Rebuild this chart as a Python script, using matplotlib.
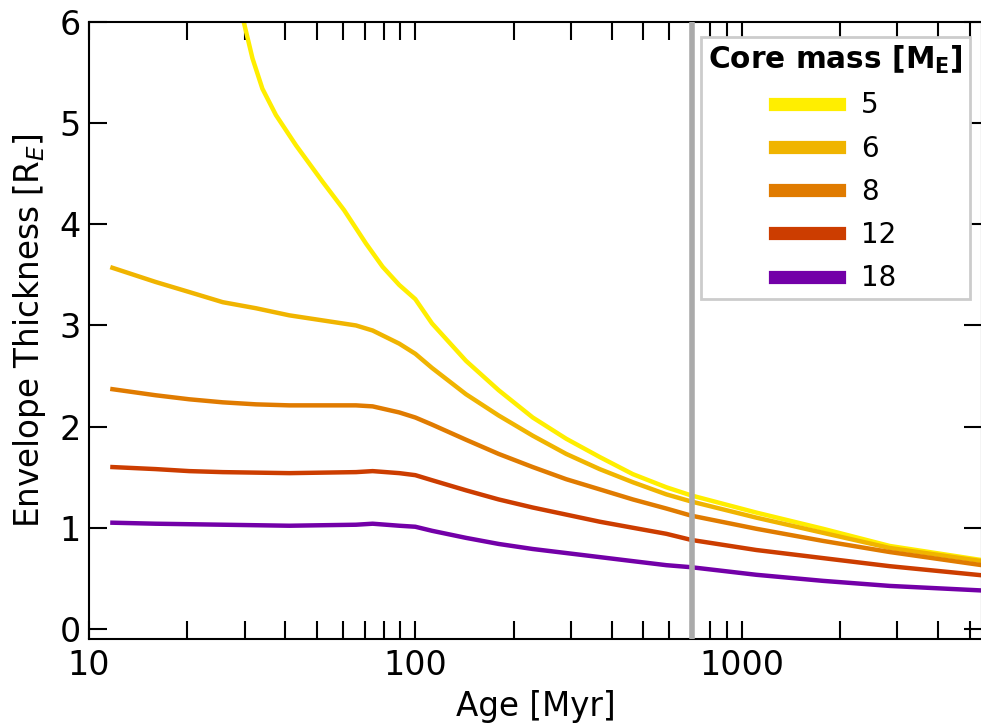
import numpy as np
import matplotlib
matplotlib.use("Agg")
import matplotlib.pyplot as plt

# ages in Myr and envelope thickness in Earth radii
age_5 = [29.6, 31.7, 34.0, 37.4, 43.1, 52.0, 60.5, 70.6, 79.4, 89.3, 100, 112.5, 143, 180, 229,
         290, 367, 464, 588, 700, 1109, 1775, 2843, 5450]
thk_5 = [6.04, 5.64, 5.34, 5.08, 4.78, 4.42, 4.14, 3.81, 3.58, 3.40, 3.26, 3.02, 2.65, 2.36, 2.09,
         1.88, 1.70, 1.53, 1.40, 1.32, 1.15, 0.99, 0.82, 0.68]

age_grid = [11.8, 16.0, 20.3, 25.7, 32.5, 41.1, 52, 65.8, 74, 89.3, 100, 112.5, 143, 180, 229,
            290, 367, 464, 588, 700, 1109, 1775, 2843, 5450]
thk_6 = [3.57, 3.43, 3.33, 3.23, 3.17, 3.10, 3.05, 3.00, 2.95, 2.82, 2.72, 2.58, 2.32, 2.11, 1.91,
         1.73, 1.58, 1.45, 1.33, 1.26, 1.10, 0.95, 0.80, 0.67]
thk_8 = [2.37, 2.31, 2.27, 2.24, 2.22, 2.21, 2.21, 2.21, 2.20, 2.14, 2.09, 2.02, 1.87, 1.73, 1.60,
         1.48, 1.38, 1.28, 1.19, 1.12, 0.99, 0.87, 0.76, 0.63]
thk_12 = [1.60, 1.58, 1.56, 1.55, 1.545, 1.54, 1.545, 1.55, 1.56, 1.54, 1.52, 1.47, 1.37, 1.28, 1.20,
          1.13, 1.06, 1.00, 0.94, 0.88, 0.78, 0.70, 0.62, 0.53]
thk_18 = [1.05, 1.04, 1.035, 1.03, 1.025, 1.02, 1.025, 1.03, 1.04, 1.02, 1.01, 0.97, 0.90, 0.84, 0.79,
          0.75, 0.71, 0.67, 0.63, 0.61, 0.535, 0.475, 0.425, 0.38]

core_masses = ['5', '6', '8', '12', '18']
colors = ['#ffee00', '#f0b400', '#e07b00', '#cc3d00', '#7300a8']
age_marker = 705

fig = plt.figure(figsize=(9.81, 7.26), dpi=100)
ax = fig.add_axes([0.0907, 0.1198, 0.9103, 0.8499])

series = [(age_5, thk_5), (age_grid, thk_6), (age_grid, thk_8), (age_grid, thk_12), (age_grid, thk_18)]
for (a, t), lab, c in zip(series, core_masses, colors):
    ax.plot(a, t, color=c, lw=3.2, label=lab, zorder=2)

ax.axvline(age_marker, color='#aaaaaa', lw=4, zorder=3)

ax.set_xscale('log')
ax.set_xlim(10, 5450)
ax.set_ylim(-0.1, 6)
ax.set_yticks([0, 1, 2, 3, 4, 5, 6])
ax.set_xticks([10, 100, 1000])
ax.set_xticklabels(['10', '100', '1000'])
ax.tick_params(which='both', direction='in', top=True, right=True, length=13, width=1.5, labelsize=24)
ax.tick_params(axis='x', which='major', pad=7)
ax.tick_params(axis='y', which='major', pad=6)
ax.tick_params(axis='x', which='minor', labelbottom=False)
for s in ax.spines.values():
    s.set_linewidth(1.5)

ax.set_xlabel('Age [Myr]', fontsize=23.5, labelpad=6)
ax.set_ylabel('Envelope Thickness [R$_E$]', fontsize=23.5, labelpad=8)

leg = ax.legend(title=r'Core mass [$\mathbf{M_E}$]', loc='upper right', bbox_to_anchor=(0.9866, 0.9757),
                borderaxespad=0, fontsize=20, title_fontproperties={'weight': 'bold', 'size': 21.3},
                handlelength=2.3, handletextpad=0.8, labelspacing=0.55, fancybox=False,
                borderpad=0.25, framealpha=1)
leg.get_frame().set_edgecolor('#cccccc')
leg.get_frame().set_linewidth(2)
for h in leg.get_lines():
    h.set_linewidth(9.5)

fig.savefig('out.png', dpi=100)
